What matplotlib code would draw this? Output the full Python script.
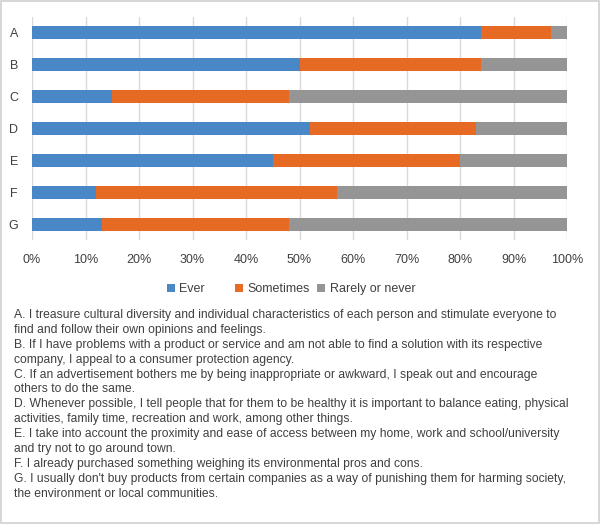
import matplotlib
matplotlib.use("Agg")
import matplotlib.pyplot as plt
from matplotlib.patches import Rectangle

categories = ["A", "B", "C", "D", "E", "F", "G"]
ever = [84, 50, 15, 52, 45, 12, 13]
sometimes = [13, 34, 33, 31, 35, 45, 35]
rarely = [3, 16, 52, 17, 20, 43, 52]
series_names = ["Ever", "Sometimes", "Rarely or never"]
colors = ["#4A87C6", "#E66A24", "#959595"]
xticks = [0, 10, 20, 30, 40, 50, 60, 70, 80, 90, 100]
xticklabels = [f"{t}%" for t in xticks]

notes = [
    "A. I treasure cultural diversity and individual characteristics of each person and stimulate everyone to",
    "find and follow their own opinions and feelings.",
    "B. If I have problems with a product or service and am not able to find a solution with its respective",
    "company, I appeal to a consumer protection agency.",
    "C. If an advertisement bothers me by being inappropriate or awkward, I speak out and encourage",
    "others to do the same.",
    "D. Whenever possible, I tell people that for them to be healthy it is important to balance eating, physical",
    "activities, family time, recreation and work, among other things.",
    "E. I take into account the proximity and ease of access between my home, work and school/university",
    "and try not to go around town.",
    "F. I already purchased something weighing its environmental pros and cons.",
    "G. I usually don't buy products from certain companies as a way of punishing them for harming society,",
    "the environment or local communities.",
]

plt.rcParams['font.family'] = ['Liberation Sans', 'DejaVu Sans']

fig = plt.figure(figsize=(6.0, 5.24), dpi=100)
W, H = 600, 524
ax = fig.add_axes([32 / W, 1 - 240 / H, (567 - 32) / W, (240 - 17) / H])

ypos = list(range(len(categories)))
left = [0] * len(categories)
for vals, name, c in zip([ever, sometimes, rarely], series_names, colors):
    ax.barh(ypos, vals, left=left, height=0.41, color=c, label=name, zorder=3)
    left = [l + v for l, v in zip(left, vals)]

ax.set_xlim(0, 100)
ax.set_ylim(len(categories) - 0.5, -0.5)
ax.set_yticks(ypos)
ax.set_yticklabels(categories, fontsize=9, color="#404040")
ax.set_xticks(xticks)
ax.set_xticklabels(xticklabels, fontsize=9, color="#404040")
ax.tick_params(axis="both", length=0, pad=10)
ax.grid(axis="x", color="#D9D9D9", linewidth=1, zorder=0)
for s in ax.spines.values():
    s.set_visible(False)

handles, labels = ax.get_legend_handles_labels()
leg_x = [167, 235, 317]
for h, lab, lx in zip(handles, labels, leg_x):
    leg = fig.legend([h], [lab], loc="center left", bbox_to_anchor=(lx / W, 1 - 289 / H),
                     frameon=False, fontsize=9, handlelength=0.6, handleheight=0.6,
                     handletextpad=0.4, borderpad=0, borderaxespad=0)
    for t in leg.get_texts():
        t.set_color("#404040")

y0 = 315
dy = 14.9
for i, line in enumerate(notes):
    fig.text(14 / W, 1 - (y0 + i * dy) / H, line, fontsize=8.75, color="#404040",
             ha="left", va="center")

fig.patches.append(Rectangle((0.002, 0.002), 0.996, 0.996, transform=fig.transFigure,
                             fill=False, edgecolor="#D0D0D0", linewidth=1.2))

fig.savefig("out.png", dpi=100, facecolor="white")
